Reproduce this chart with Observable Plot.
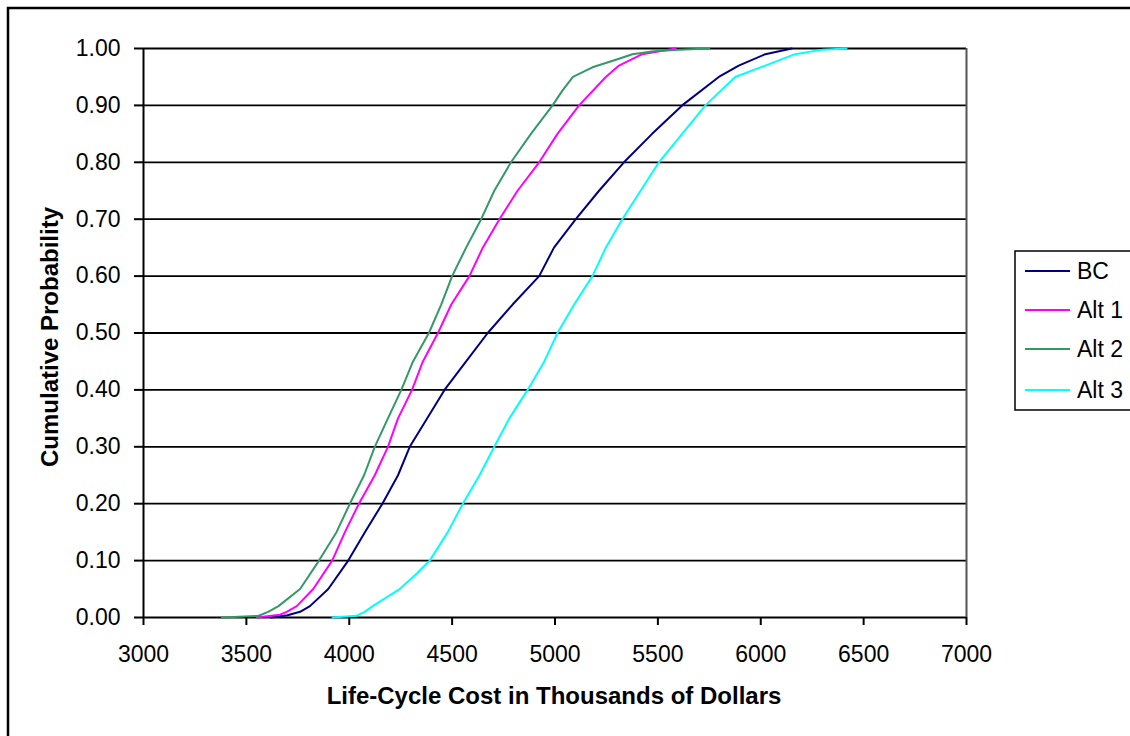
<!DOCTYPE html>
<html>
<head>
<meta charset="utf-8">
<script src="https://cdn.jsdelivr.net/npm/d3@7"></script>
<script src="https://cdn.jsdelivr.net/npm/@observablehq/plot@0.6"></script>
<style>
  html, body { margin: 0; padding: 0; background: white; overflow: hidden; }
  #chart { width: 1130px; height: 736px; }
</style>
</head>
<body>
<div id="chart"></div>
<script>
// ---- Data ----
const seriesNames = ["BC", "Alt 1", "Alt 2", "Alt 3"];
const seriesColors = ["#000080", "#FF00FF", "#339966", "#00FFFF"];

const xTicks = [3000, 3500, 4000, 4500, 5000, 5500, 6000, 6500, 7000];
const yTicks = [0, 0.1, 0.2, 0.3, 0.4, 0.5, 0.6, 0.7, 0.8, 0.9, 1.0];

const bcCost = [3620, 3700, 3761, 3809, 3898, 3995, 4076, 4161, 4237, 4294, 4379, 4463, 4568, 4673, 4794, 4923, 4995, 5101, 5214, 5335, 5472, 5618, 5796, 5893, 6022, 6151];
const bcProb = [0, 0.004, 0.01, 0.02, 0.05, 0.10, 0.15, 0.20, 0.25, 0.30, 0.35, 0.40, 0.45, 0.50, 0.55, 0.60, 0.65, 0.70, 0.75, 0.80, 0.85, 0.90, 0.95, 0.97, 0.99, 1.00];

const alt1Cost = [3551, 3664, 3696, 3745, 3825, 3917, 3979, 4047, 4124, 4188, 4237, 4305, 4358, 4431, 4496, 4584, 4649, 4730, 4818, 4923, 5012, 5117, 5247, 5311, 5424, 5586];
const alt1Prob = [0, 0.005, 0.01, 0.02, 0.05, 0.10, 0.15, 0.20, 0.25, 0.30, 0.35, 0.40, 0.45, 0.50, 0.55, 0.60, 0.65, 0.70, 0.75, 0.80, 0.85, 0.90, 0.95, 0.97, 0.99, 1.00];

const alt2Cost = [3381, 3560, 3606, 3656, 3761, 3853, 3938, 4003, 4072, 4124, 4188, 4253, 4310, 4387, 4447, 4500, 4568, 4641, 4705, 4786, 4883, 4988, 5036, 5087, 5182, 5311, 5376, 5480, 5600, 5750];
const alt2Prob = [0, 0.003, 0.01, 0.02, 0.05, 0.10, 0.15, 0.20, 0.25, 0.30, 0.35, 0.40, 0.45, 0.50, 0.55, 0.60, 0.65, 0.70, 0.75, 0.80, 0.85, 0.90, 0.926, 0.95, 0.967, 0.982, 0.99, 0.995, 0.998, 1.00];

const alt3Cost = [3919, 4034, 4075, 4114, 4158, 4245, 4322, 4391, 4479, 4552, 4633, 4705, 4778, 4867, 4948, 5012, 5093, 5182, 5247, 5327, 5416, 5505, 5618, 5731, 5876, 6022, 6167, 6300, 6417];
const alt3Prob = [0, 0.003, 0.01, 0.02, 0.03, 0.05, 0.075, 0.10, 0.15, 0.20, 0.25, 0.30, 0.35, 0.40, 0.45, 0.50, 0.55, 0.60, 0.65, 0.70, 0.75, 0.80, 0.85, 0.90, 0.95, 0.97, 0.99, 0.998, 1.00];

const xTitle = "Life-Cycle Cost in Thousands of Dollars";
const yTitle = "Cumulative Probability";

// ---- Build table ----
const seriesData = [
  [bcCost, bcProb], [alt1Cost, alt1Prob], [alt2Cost, alt2Prob], [alt3Cost, alt3Prob]
];
const rows = [];
seriesData.forEach(([c, p], i) => {
  c.forEach((v, j) => rows.push({series: seriesNames[i], cost: v, prob: p[j]}));
});

const font = "'Liberation Sans', Arial, Helvetica, sans-serif";

const chart = Plot.plot({
  width: 1130,
  height: 736,
  marginLeft: 143,
  marginRight: 164,
  marginTop: 48,
  marginBottom: 119,
  style: {fontFamily: font, fontSize: "23px", color: "black", background: "white"},
  x: {domain: [3000, 7000]},
  y: {domain: [0, 1]},
  color: {domain: seriesNames, range: seriesColors},
  marks: [
    Plot.ruleY(yTicks, {stroke: "black", strokeWidth: 1.8}),
    Plot.ruleX([7000], {stroke: "#555", strokeWidth: 2}),
    Plot.ruleX([3000], {stroke: "black", strokeWidth: 2}),
    Plot.line(rows, {x: "cost", y: "prob", z: "series", stroke: "series", strokeWidth: 2}),
    Plot.axisX({ticks: xTicks, tickFormat: d3.format("d"), tickSize: 8, tickPadding: 20, label: null, strokeWidth: 2}),
    Plot.axisY({ticks: yTicks, tickFormat: d3.format(".2f"), tickSize: 9, tickPadding: 14, label: null, strokeWidth: 2})
  ]
});

document.getElementById("chart").appendChild(chart);

const svg = d3.select(chart);

// Outer chart-area border
svg.insert("rect", ":first-child")
  .attr("x", 8).attr("y", 8).attr("width", 1300).attr("height", 900)
  .attr("fill", "none").attr("stroke", "black").attr("stroke-width", 2.5);

// Axis titles
svg.append("text")
  .attr("x", 554).attr("y", 704)
  .attr("text-anchor", "middle")
  .attr("font-family", font).attr("font-size", 24).attr("font-weight", "bold")
  .attr("fill", "black")
  .text(xTitle);

svg.append("text")
  .attr("transform", "translate(58,337) rotate(-90)")
  .attr("text-anchor", "middle")
  .attr("font-family", font).attr("font-size", 24).attr("font-weight", "bold")
  .attr("fill", "black")
  .text(yTitle);

// Legend
const lg = svg.append("g");
lg.append("rect")
  .attr("x", 1015).attr("y", 251).attr("width", 200).attr("height", 159)
  .attr("fill", "white").attr("stroke", "black").attr("stroke-width", 1.5);
const legendY = [271, 310, 349, 390];
seriesNames.forEach((name, i) => {
  lg.append("line")
    .attr("x1", 1025).attr("x2", 1070)
    .attr("y1", legendY[i]).attr("y2", legendY[i])
    .attr("stroke", seriesColors[i]).attr("stroke-width", 2);
  lg.append("text")
    .attr("x", 1077).attr("y", legendY[i] + 8)
    .attr("text-anchor", "start")
    .attr("font-family", font).attr("font-size", 23)
    .attr("fill", "black")
    .text(name);
});
</script>
</body>
</html>
